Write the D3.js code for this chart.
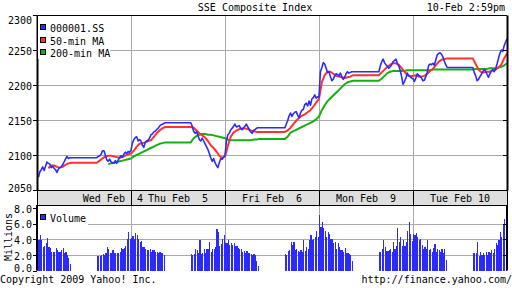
<!DOCTYPE html>
<html>
<head>
<meta charset="utf-8">
<script src="https://cdn.jsdelivr.net/npm/d3@7"></script>
<style>
  body { margin: 0; background: #fff; }
  svg { display: block; font-family: "DejaVu Sans Mono", monospace; font-size: 10px; }
</style>
</head>
<body>
<svg id="chart" width="512" height="288"></svg>
<script>
const days = ["Wed Feb  4", "Thu Feb  5", "Fri Feb  6", "Mon Feb  9", "Tue Feb 10"];
const seriesNames = ["000001.SS", "50-min MA", "200-min MA"];
const priceTicks = [2050, 2100, 2150, 2200, 2250, 2300];
const volumeTicks = [0, 2, 4, 6, 8];

// 5-minute closes, per day: 24 morning bars then 24 afternoon bars
const price = [
  [2068, 2076, 2079, 2083, 2078, 2084, 2090, 2088, 2087, 2082, 2084, 2081, 2079, 2075, 2080, 2082, 2083, 2086, 2090, 2094, 2098, 2095, 2096, 2096,
   2098, 2099, 2101, 2106, 2106, 2100, 2093, 2091, 2094, 2090, 2089, 2088, 2092, 2088, 2093, 2096, 2099, 2097, 2101, 2104, 2102, 2105, 2104, 2107],
  [2117, 2122, 2125, 2126, 2120, 2122, 2120, 2114, 2111, 2118, 2120, 2121, 2124, 2129, 2130, 2133, 2134, 2136, 2138, 2141, 2143, 2144, 2145, 2146,
   2141, 2134, 2131, 2133, 2128, 2122, 2120, 2124, 2120, 2116, 2112, 2108, 2102, 2096, 2091, 2095, 2089, 2085, 2082, 2089, 2095, 2094, 2097, 2099],
  [2120, 2129, 2131, 2136, 2138, 2141, 2144, 2140, 2141, 2142, 2138, 2136, 2139, 2141, 2144, 2140, 2137, 2133, 2131, 2135, 2136, 2138, 2139, 2139,
   2144, 2149, 2156, 2160, 2155, 2159, 2161, 2162, 2157, 2153, 2160, 2164, 2165, 2172, 2174, 2170, 2177, 2171, 2180, 2182, 2186, 2181, 2183, 2183],
  [2219, 2225, 2232, 2230, 2224, 2218, 2219, 2212, 2206, 2208, 2213, 2216, 2215, 2213, 2217, 2212, 2208, 2211, 2216, 2219, 2217, 2218, 2219, 2219,
   2227, 2233, 2237, 2232, 2229, 2227, 2224, 2226, 2229, 2233, 2235, 2237, 2231, 2227, 2221, 2212, 2201, 2205, 2210, 2217, 2213, 2212, 2210, 2209],
  [2205, 2210, 2216, 2214, 2212, 2210, 2206, 2207, 2212, 2218, 2228, 2230, 2229, 2231, 2228, 2236, 2243, 2245, 2246, 2244, 2240, 2234, 2229, 2225,
   2218, 2213, 2206, 2208, 2212, 2215, 2219, 2222, 2220, 2215, 2211, 2216, 2220, 2222, 2219, 2223, 2230, 2238, 2245, 2250, 2248, 2256, 2261, 2266]
];

// moving averages sampled every 10 minutes: 12 morning then 12 afternoon
const ma50 = [
  [null, null, null, 2081, 2085, 2085, 2083, 2082, 2083, 2086, 2088, 2089,
   2092, 2095, 2098, 2099, 2099, 2098, 2097, 2096, 2097, 2099, 2101, 2102],
  [2106, 2112, 2116, 2117, 2118, 2120, 2121, 2126, 2131, 2135, 2138, 2140,
   2139, 2135, 2131, 2128, 2125, 2120, 2114, 2110, 2105, 2099, 2096, 2098],
  [2113, 2126, 2132, 2135, 2137, 2138, 2138, 2137, 2135, 2134, 2133, 2133,
   2135, 2139, 2144, 2149, 2153, 2156, 2158, 2161, 2164, 2169, 2175, 2180],
  [2204, 2214, 2219, 2219, 2216, 2213, 2212, 2211, 2210, 2211, 2212, 2214,
   2218, 2222, 2226, 2229, 2231, 2231, 2229, 2224, 2219, 2214, 2213, 2213],
  [2214, 2212, 2212, 2213, 2216, 2220, 2223, 2228, 2233, 2236, 2237, 2238,
   2230, 2222, 2218, 2218, 2219, 2219, 2221, 2222, 2225, 2229, 2238, 2245]
];
const ma200 = [
  [null, null, null, null, null, null, null, null, null, null, null, null,
   null, null, null, 2087, 2088, 2089, 2090, 2091, 2092, 2093, 2094, 2095],
  [2098, 2100, 2102, 2104, 2106, 2108, 2110, 2112, 2114, 2116, 2117, 2118,
   2124, 2127, 2129, 2130, 2130, 2129, 2129, 2128, 2127, 2126, 2125, 2124],
  [2122, 2121, 2121, 2121, 2121, 2121, 2121, 2121, 2121, 2122, 2122, 2123,
   2126, 2132, 2134, 2136, 2138, 2140, 2142, 2144, 2146, 2148, 2151, 2155],
  [2164, 2171, 2177, 2181, 2185, 2189, 2193, 2197, 2201, 2204, 2205, 2206,
   2209, 2213, 2217, 2219, 2220, 2220, 2220, 2220, 2220, 2221, 2221, 2221],
  [2221, 2221, 2221, 2221, 2221, 2221, 2222, 2222, 2222, 2222, 2222, 2222,
   2223, 2223, 2223, 2223, 2223, 2224, 2224, 2224, 2225, 2226, 2228, 2231]
];

// volume in millions, 5-minute bars
const volume = [
  [3.8, 3.9, 4.5, 3.9, 3.0, 3.1, 3.5, 4.2, 3.0, 2.9, 2.4, 2.4, 2.4, 2.9, 2.6, 2.4, 2.4, 2.6, 2.9, 2.2, 2.4, 2.0, 1.6, 0.8,
   1.8, 1.9, 1.8, 2.0, 2.1, 2.0, 2.3, 3.0, 2.7, 2.3, 2.3, 2.6, 2.3, 2.3, 2.3, 2.3, 2.4, 2.9, 2.8, 2.9, 3.2, 4.0, 5.0, 4.1],
  [4.2, 4.4, 4.0, 4.8, 4.6, 4.0, 3.7, 3.8, 3.0, 3.0, 2.8, 2.6, 2.6, 2.8, 2.4, 2.6, 2.6, 2.4, 2.4, 2.3, 2.4, 2.2, 2.3, 2.0,
   2.1, 2.0, 2.1, 2.8, 2.6, 2.2, 3.9, 2.1, 2.3, 2.8, 2.3, 2.7, 2.8, 3.7, 2.4, 2.7, 2.8, 3.0, 5.3, 4.9, 3.2, 3.4, 4.1, 4.6],
  [3.5, 3.5, 3.9, 3.3, 3.5, 3.3, 3.5, 3.1, 3.1, 2.9, 2.8, 2.8, 2.4, 2.5, 2.3, 2.5, 2.3, 2.2, 2.1, 2.0, 2.1, 2.0, 1.2, 0.6,
   2.1, 2.0, 2.5, 2.6, 3.7, 3.3, 3.6, 2.6, 2.8, 2.5, 2.4, 2.6, 2.4, 3.9, 2.5, 3.0, 2.8, 3.9, 4.5, 3.9, 4.1, 4.3, 5.1, 4.3],
  [7.1, 5.6, 6.2, 5.5, 5.1, 4.3, 4.9, 4.7, 4.1, 4.1, 3.5, 3.7, 2.8, 3.5, 3.0, 2.6, 2.6, 2.4, 2.9, 2.3, 2.2, 2.1, 2.0, 1.2,
   2.4, 2.4, 2.7, 3.9, 3.0, 2.5, 2.5, 2.6, 2.8, 2.4, 3.7, 2.8, 3.2, 5.5, 3.7, 4.3, 3.2, 3.9, 3.2, 3.7, 5.1, 6.2, 4.7, 3.8],
  [4.7, 4.6, 4.8, 4.3, 3.9, 4.1, 3.3, 2.8, 3.0, 2.7, 3.9, 2.6, 2.8, 2.4, 2.9, 3.4, 2.4, 2.7, 2.6, 2.4, 2.7, 2.3, 2.7, 1.4,
   2.3, 2.3, 2.3, 3.6, 1.9, 2.4, 2.0, 2.3, 2.0, 2.4, 2.0, 2.4, 2.2, 2.6, 2.2, 2.8, 3.5, 3.3, 3.9, 5.0, 4.3, 6.0, 6.6, 4.8]
];

const colors = ["#2b2bff", "#ff3030", "#12b012"];
const gridColor = "#a9a9a9";

// trading clock: 9:30-15:00 = 330 minutes, lunch 11:30-13:00
const dayLen = 330, pmStart = 210;
function t5(d, i) { return d * dayLen + (i < 24 ? (i + 1) * 5 : pmStart + (i - 23) * 5); }
function t10(d, j) { return d * dayLen + (j < 12 ? (j + 1) * 10 : pmStart + (j - 11) * 10); }

// price is held flat over lunch and overnight
function toPoints(rows, tf, half) {
  let pts = [], last = null;
  rows.forEach((row, d) => {
    row.forEach((v, i) => {
      if (v == null) return;
      if ((i === 0 || i === half) && last != null) {
        pts.push({ t: d * dayLen + (i === 0 ? 0 : pmStart), v: last });
      }
      pts.push({ t: tf(d, i), v: v });
      last = v;
    });
  });
  return pts;
}

const svg = d3.select("#chart");
const pLeft = 37, pRight = 507, pTop = 15, pBottom = 190;
const bandBottom = 205, volBottom = 270.5;

const x = d3.scaleLinear().domain([0, days.length * dayLen]).range([pLeft, pRight]);
const y = d3.scaleLinear().domain([2050, 2300]).range([pBottom, pTop]);
const yv = d3.scaleLinear().domain([0, 8.4]).range([volBottom, bandBottom]);
const px = v => Math.round(v) + 0.5;

// title
svg.append("text").attr("x", 255).attr("y", 11).attr("text-anchor", "middle").text("SSE Composite Index");
svg.append("text").attr("x", 505).attr("y", 11).attr("text-anchor", "end").text("10-Feb 2:59pm");

// grid, main panel
let grid = svg.append("g").attr("stroke", gridColor).attr("stroke-width", 1).attr("shape-rendering", "crispEdges");
grid.selectAll(".h").data(priceTicks.slice(1, -1)).enter().append("line")
  .attr("x1", pLeft).attr("x2", pRight).attr("y1", d => px(y(d))).attr("y2", d => px(y(d)));
grid.selectAll(".v").data(d3.range(1, days.length)).enter().append("line")
  .attr("x1", d => px(x(d * dayLen))).attr("x2", d => px(x(d * dayLen)))
  .attr("y1", pTop).attr("y2", pBottom);
// grid, volume panel
grid.selectAll(".hv").data(volumeTicks.slice(1, -1)).enter().append("line")
  .attr("x1", pLeft).attr("x2", pRight).attr("y1", d => px(yv(d))).attr("y2", d => px(yv(d)));
grid.selectAll(".vv").data(d3.range(1, days.length)).enter().append("line")
  .attr("x1", d => px(x(d * dayLen))).attr("x2", d => px(x(d * dayLen)))
  .attr("y1", bandBottom).attr("y2", volBottom);

// volume bars
const barStep = x(5) - x(0);
let bars = [];
volume.forEach((row, d) => row.forEach((v, i) => bars.push({ t: t5(d, i) - 5, v: v })));
svg.append("g").attr("shape-rendering", "crispEdges")
  .selectAll("rect").data(bars).enter().append("rect")
  .attr("x", d => x(d.t))
  .attr("width", barStep * 0.8)
  .attr("y", d => yv(d.v))
  .attr("height", d => volBottom - yv(d.v))
  .attr("fill", colors[0]);

// lines
const line = d3.line().x(d => x(d.t)).y(d => y(d.v));
const lineData = [toPoints(price, t5, 24), toPoints(ma50, t10, 12), toPoints(ma200, t10, 12)];
[2, 1, 0].forEach(k => {
  svg.append("path").datum(lineData[k])
    .attr("fill", "none")
    .attr("stroke", colors[k])
    .attr("stroke-width", k === 0 ? 1.6 : 2)
    .attr("stroke-linejoin", "round")
    .attr("d", line);
});

// date band
svg.append("rect").attr("x", pLeft).attr("y", pBottom).attr("width", pRight - pLeft).attr("height", bandBottom - pBottom)
  .attr("fill", "#dedede").attr("stroke", "#000").attr("shape-rendering", "crispEdges");
svg.append("g").attr("stroke", "#000").attr("shape-rendering", "crispEdges")
  .selectAll("line").data(d3.range(1, days.length)).enter().append("line")
  .attr("x1", d => px(x(d * dayLen))).attr("x2", d => px(x(d * dayLen)))
  .attr("y1", pBottom).attr("y2", bandBottom);
svg.append("g").selectAll("text").data(days).enter().append("text")
  .attr("x", (d, i) => i === 0 ? x(dayLen) + 12 : x(i * dayLen + dayLen / 2))
  .attr("y", 202)
  .attr("text-anchor", (d, i) => i === 0 ? "end" : "middle")
  .style("white-space", "pre")
  .text(d => d);

// top border
svg.append("line").attr("x1", pLeft).attr("x2", pRight).attr("y1", pTop + 0.5).attr("y2", pTop + 0.5)
  .attr("stroke", "#000").attr("shape-rendering", "crispEdges");

// axes
const yAxis = svg.append("g").attr("transform", "translate(" + pLeft + ",0)")
  .call(d3.axisLeft(y).tickValues(priceTicks).tickSize(4).tickSizeOuter(0).tickPadding(1).tickFormat(d3.format("d")));
yAxis.selectAll("text").attr("dy", d => d === 2300 ? "0.82em" : d === 2050 ? "0.12em" : "0.42em");
svg.append("g").attr("transform", "translate(" + pRight + ",0)")
  .call(d3.axisRight(y).tickValues(priceTicks.slice(1, -1)).tickSize(-4).tickSizeOuter(0).tickFormat(""));

const vAxis = svg.append("g").attr("transform", "translate(" + pLeft + ",0)")
  .call(d3.axisLeft(yv).tickValues(volumeTicks).tickSize(4).tickSizeOuter(0).tickPadding(1).tickFormat(d3.format(".1f")));
vAxis.selectAll("text").attr("dy", d => d === 8 ? "0.48em" : d === 0 ? "0.05em" : "0.42em");
vAxis.select(".domain").attr("d", "M0," + bandBottom + "V" + volBottom);
svg.append("g").attr("transform", "translate(" + pRight + ",0)")
  .call(d3.axisRight(yv).tickValues(volumeTicks.slice(1, -1)).tickSize(-4).tickSizeOuter(0).tickFormat(""))
  .select(".domain").attr("d", "M0," + bandBottom + "V" + volBottom);

svg.selectAll(".tick text").attr("font-family", "DejaVu Sans Mono").attr("font-size", 10).attr("fill", "#000");
svg.selectAll(".domain").attr("stroke-width", 2);
svg.selectAll(".tick line").attr("shape-rendering", "crispEdges");

svg.append("text")
  .attr("transform", "translate(11.5,237) rotate(-90)")
  .attr("text-anchor", "middle")
  .text("Millions");

// legends
let lg = svg.append("g");
lg.append("rect").attr("x", pLeft + 1).attr("y", pTop + 1).attr("width", 72).attr("height", 43).attr("fill", "#fff");
seriesNames.forEach((name, i) => {
  let by = 32 + i * 12.7;
  lg.append("rect").attr("x", 40.5).attr("y", by - 7.5).attr("width", 5).attr("height", 5)
    .attr("fill", colors[i]).attr("stroke", "#000").attr("shape-rendering", "crispEdges");
  lg.append("text").attr("x", 50).attr("y", by).text(name);
});
lg.append("rect").attr("x", pLeft + 1).attr("y", bandBottom + 1).attr("width", 50).attr("height", 20).attr("fill", "#fff");
lg.append("rect").attr("x", 40.5).attr("y", 214.5).attr("width", 5).attr("height", 5)
  .attr("fill", colors[0]).attr("stroke", "#000").attr("shape-rendering", "crispEdges");
lg.append("text").attr("x", 50).attr("y", 222).text("Volume");

// footer
svg.append("text").attr("x", 0).attr("y", 283).text("Copyright 2009 Yahoo! Inc.");
svg.append("text").attr("x", 512).attr("y", 283).attr("text-anchor", "end").text("http://finance.yahoo.com/");
</script>
</body>
</html>
